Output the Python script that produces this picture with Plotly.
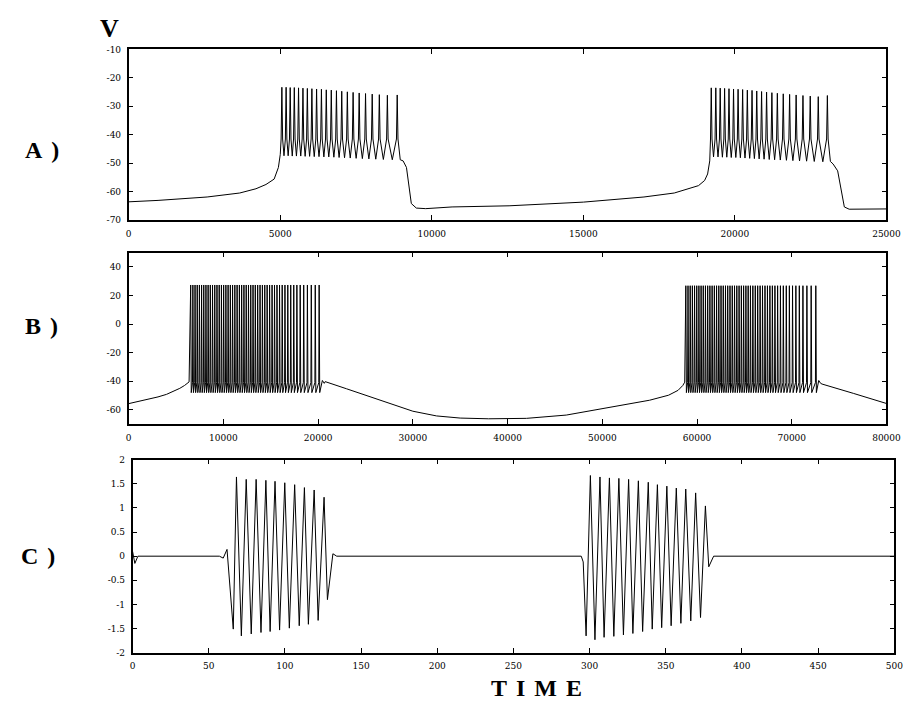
import plotly.graph_objects as go

# ---------------- Panel A (0..25000, V in mV) ----------------
A_x_ticks = [0, 5000, 10000, 15000, 20000, 25000]
A_x_ticktext = ["0", "5000", "10000", "15000", "20000", "25000"]
A_y_ticks = [-70, -60, -50, -40, -30, -20, -10]
A_y_ticktext = ["-70", "-60", "-50", "-40", "-30", "-20", "-10"]

A_pre_t = [0, 970, 2590, 3665, 4200, 4530, 4800, 4940, 5002]
A_pre_v = [-63.6, -63.1, -61.9, -60.5, -59.0, -57.5, -55.6, -51.5, -46.9]

A1_spike_t = [5055, 5195, 5330, 5465, 5605, 5750, 5895, 6045, 6200, 6360, 6520,
              6685, 6855, 7030, 7215, 7405, 7605, 7815, 8035, 8270, 8535, 8860]
A1_peak_v = [-23.3, -23.3, -23.4, -23.4, -23.5, -23.6, -23.7, -23.8, -23.9, -24.0, -24.2,
             -24.3, -24.5, -24.7, -24.9, -25.1, -25.3, -25.5, -25.7, -25.9, -26.1, -26.0]
A1_trough_v = [-47.4, -47.4, -47.5, -47.5, -47.5, -47.6, -47.6, -47.7, -47.7, -47.8, -47.8,
               -47.9, -48.0, -48.1, -48.2, -48.3, -48.4, -48.5, -48.6, -48.7, -48.8]

A_mid_t = [8960, 9055, 9165, 9240, 9325, 9490, 9800, 10670, 12550, 15000, 17000,
           18000, 18500, 18800, 19000, 19100, 19170]
A_mid_v = [-48.8, -49.2, -51.5, -57.0, -64.2, -65.8, -66.0, -65.4, -65.0, -63.7, -61.9,
           -60.5, -59.0, -57.9, -56.1, -53.8, -49.2]

A2_spike_t = [19220, 19370, 19515, 19660, 19805, 19955, 20105, 20255, 20410, 20565, 20720,
              20880, 21045, 21220, 21400, 21595, 21805, 22020, 22245, 22485, 22750, 23050]
A2_peak_v = [-23.5, -23.5, -23.6, -23.7, -23.8, -23.9, -24.0, -24.1, -24.3, -24.4, -24.6,
             -24.8, -25.0, -25.2, -25.4, -25.6, -25.8, -26.0, -26.2, -26.4, -26.6, -26.2]
A2_trough_v = [-47.8, -47.8, -47.9, -47.9, -48.0, -48.0, -48.1, -48.2, -48.3, -48.4, -48.5,
               -48.6, -48.7, -48.8, -48.9, -49.0, -49.1, -49.2, -49.3, -49.4, -49.5]

A_post_t = [23150, 23240, 23390, 23480, 23610, 23770, 24200, 25000]
A_post_v = [-49.4, -50.3, -52.7, -58.0, -65.4, -66.2, -66.2, -66.1]

A_shoulder_v = -41.5

# ---------------- Panel B (0..80000) ----------------
B_x_ticks = [0, 10000, 20000, 30000, 40000, 50000, 60000, 70000, 80000]
B_x_ticktext = ["0", "10000", "20000", "30000", "40000", "50000", "60000", "70000", "80000"]
B_y_ticks = [-60, -40, -20, 0, 20, 40]
B_y_ticktext = ["-60", "-40", "-20", "0", "20", "40"]

B_pre_t = [0, 1500, 3100, 4000, 4800, 5400, 5900, 6380]
B_pre_v = [-55.7, -53.5, -51.0, -49.2, -47.0, -45.0, -43.0, -40.5]

B1_spike_t = [6550, 6780, 7010, 7240, 7470, 7700, 7930, 8160, 8390, 8620,
              8855, 9090, 9325, 9560, 9795, 10030, 10265, 10500, 10735, 10970,
              11210, 11450, 11690, 11930, 12170, 12410, 12650, 12890, 13130, 13370,
              13620, 13870, 14120, 14370, 14620, 14880, 15140, 15400, 15660, 15930,
              16210, 16500, 16800, 17110, 17430, 17760, 18110, 18480, 18870, 19280, 19700, 20110]
B2_spike_t = [58820, 59050, 59280, 59510, 59740, 59970, 60200, 60430, 60660, 60890,
              61125, 61360, 61595, 61830, 62065, 62300, 62535, 62770, 63005, 63240,
              63480, 63720, 63960, 64200, 64440, 64680, 64920, 65160, 65400, 65640,
              65895, 66150, 66405, 66660, 66915, 67175, 67435, 67695, 67955, 68225,
              68510, 68805, 69110, 69425, 69750, 70085, 70435, 70800, 71180, 71600, 72050, 72540]
B1_peak_v = 27.3
B2_peak_v = 26.8
B_trough_v = -48.0
B_threshold_v = -41.0

B_mid_t = [20170, 20450, 20650, 20750, 23000, 25500, 28000, 30000, 32500, 35000, 38000,
           42000, 46200, 50000, 55000, 57000, 58000, 58500, 58700]
B_mid_v = [-48.0, -39.5, -41.5, -40.3, -45.3, -50.8, -56.5, -61.0, -64.3, -65.8, -66.3,
           -66.0, -63.7, -59.1, -53.3, -49.8, -46.4, -43.0, -40.7]

B_post_t = [72600, 72850, 73050, 73200, 76500, 80000]
B_post_v = [-48.0, -39.5, -41.5, -42.0, -48.5, -55.6]

# ---------------- Panel C (0..500) ----------------
C_x_ticks = [0, 50, 100, 150, 200, 250, 300, 350, 400, 450, 500]
C_x_ticktext = ["0", "50", "100", "150", "200", "250", "300", "350", "400", "450", "500"]
C_y_ticks = [-2, -1.5, -1, -0.5, 0, 0.5, 1, 1.5, 2]
C_y_ticktext = ["-2", "-1.5", "-1", "-0.5", "0", "0.5", "1", "1.5", "2"]

C_lead_t = [0, 1.5, 3.5, 57, 59.5, 62]
C_lead_v = [0.1, -0.15, 0.0, 0.0, -0.04, 0.14]

C1_peak_t = [68.2, 74.6, 81.1, 87.5, 93.5, 99.9, 106.4, 112.8, 119.2, 125.7]
C1_peak_v = [1.64, 1.59, 1.59, 1.57, 1.55, 1.52, 1.48, 1.42, 1.37, 1.22]
C1_trough_t = [66.1, 71.4, 77.9, 84.3, 90.3, 96.5, 102.9, 109.4, 115.4, 121.8, 127.9]
C1_trough_v = [-1.51, -1.65, -1.61, -1.58, -1.56, -1.53, -1.49, -1.44, -1.41, -1.33, -0.90]

C_gap_t = [131.5, 134, 294.5, 295.8]
C_gap_v = [0.05, 0.0, 0.0, -0.12]

C2_peak_t = [300.5, 306.8, 313.0, 319.2, 325.6, 332.0, 338.5, 344.5, 350.7, 356.9, 363.1, 369.6, 376.0]
C2_peak_v = [1.67, 1.64, 1.62, 1.61, 1.59, 1.56, 1.53, 1.48, 1.45, 1.41, 1.39, 1.31, 1.04]
C2_trough_t = [297.7, 303.5, 309.5, 315.9, 322.2, 328.4, 334.8, 341.1, 347.3, 353.5, 359.9,
               366.4, 372.8, 378.2]
C2_trough_v = [-1.65, -1.73, -1.68, -1.66, -1.63, -1.60, -1.56, -1.51, -1.48, -1.44, -1.39,
               -1.34, -1.27, -0.22]

C_tail_t = [381.4, 500]
C_tail_v = [0.0, 0.0]


# ---------------- build polylines from the lists ----------------
def a_burst(spikes, peaks, troughs, shoulder, d=25):
    xs, ys = [], []
    for i, t in enumerate(spikes):
        xs += [t - d, t, t + d]
        ys += [shoulder, peaks[i], shoulder]
        if i < len(spikes) - 1:
            xs.append((t + spikes[i + 1]) / 2)
            ys.append(troughs[i])
    return xs, ys


def b_burst(spikes, peak, trough, thresh, d_down=60, d_up=40):
    xs, ys = [], []
    for i, t in enumerate(spikes):
        if i > 0:
            xs.append(t - d_up)
            ys.append(thresh)
        xs.append(t)
        ys.append(peak)
        if i < len(spikes) - 1:
            xs.append(t + d_down)
            ys.append(trough)
    return xs, ys


def merge(ta, va, tb, vb):
    pts = sorted(zip(ta + tb, va + vb))
    return [p[0] for p in pts], [p[1] for p in pts]


a1x, a1y = a_burst(A1_spike_t, A1_peak_v, A1_trough_v, A_shoulder_v)
a2x, a2y = a_burst(A2_spike_t, A2_peak_v, A2_trough_v, A_shoulder_v)
Ax = A_pre_t + a1x + A_mid_t + a2x + A_post_t
Ay = A_pre_v + a1y + A_mid_v + a2y + A_post_v

b1x, b1y = b_burst(B1_spike_t, B1_peak_v, B_trough_v, B_threshold_v)
b2x, b2y = b_burst(B2_spike_t, B2_peak_v, B_trough_v, B_threshold_v)
Bx = B_pre_t + b1x + B_mid_t + b2x + B_post_t
By = B_pre_v + b1y + B_mid_v + b2y + B_post_v

c1x, c1y = merge(C1_peak_t, C1_peak_v, C1_trough_t, C1_trough_v)
c2x, c2y = merge(C2_peak_t, C2_peak_v, C2_trough_t, C2_trough_v)
Cx = C_lead_t + c1x + C_gap_t + c2x + C_tail_t
Cy = C_lead_v + c1y + C_gap_v + c2y + C_tail_v

line = dict(color="black", width=1)
fig = go.Figure()
fig.add_trace(go.Scatter(x=Ax, y=Ay, mode="lines", line=line, xaxis="x", yaxis="y"))
fig.add_trace(go.Scatter(x=Bx, y=By, mode="lines", line=line, xaxis="x2", yaxis="y2"))
fig.add_trace(go.Scatter(x=Cx, y=Cy, mode="lines", line=line, xaxis="x3", yaxis="y3"))

W, H = 917, 704
tickfont = dict(family="DejaVu Serif", size=9, color="black")


def ax(domain, rng, vals, text, anchor):
    return dict(domain=domain, range=rng, tickvals=vals, ticktext=text, anchor=anchor,
                showline=True, linecolor="black", linewidth=1.5, mirror="ticks",
                ticks="inside", ticklen=5, tickwidth=1, tickcolor="black",
                showgrid=False, zeroline=False, tickfont=tickfont, ticklabelstandoff=4)


A_px = dict(x0=120, x1=893, y0=37, y1=210)
B_px = dict(x0=120, x1=893, y0=243, y1=417)
C_px = dict(x0=124, x1=901, y0=453, y1=649)


def dom(p):
    return [p["x0"] / W, p["x1"] / W], [1 - p["y1"] / H, 1 - p["y0"] / H]


axd, ayd = dom(A_px)
bxd, byd = dom(B_px)
cxd, cyd = dom(C_px)

fig.update_layout(
    width=W, height=H, margin=dict(l=0, r=0, t=0, b=0),
    paper_bgcolor="white", plot_bgcolor="white", showlegend=False,
    xaxis=ax(axd, [0, 25000], A_x_ticks, A_x_ticktext, "y"),
    yaxis=ax(ayd, [-70, -10], A_y_ticks, A_y_ticktext, "x"),
    xaxis2=ax(bxd, [0, 80000], B_x_ticks, B_x_ticktext, "y2"),
    yaxis2=ax(byd, [-70, 50], B_y_ticks, B_y_ticktext, "x2"),
    xaxis3=ax(cxd, [0, 500], C_x_ticks, C_x_ticktext, "y3"),
    yaxis3=ax(cyd, [-2, 2], C_y_ticks, C_y_ticktext, "x3"),
)

lab = dict(family="Liberation Serif", color="black", weight="bold")
# text, x px, y px, size, yanchor
annots = [
    ('<span style="letter-spacing:2px">V</span>', 101, 0, 26, "top"),
    ('<span style="letter-spacing:9px">A)</span>', 36, 139, 24, "middle"),
    ('<span style="letter-spacing:9px">B)</span>', 36, 318, 24, "middle"),
    ('<span style="letter-spacing:9px">C)</span>', 32, 551, 24, "middle"),
    ('<span style="letter-spacing:9px">TIME</span>', 541, 685, 24, "middle"),
]
for txt, px, py, sz, ya in annots:
    fig.add_annotation(text=txt, x=px / W, y=1 - py / H, xref="paper", yref="paper",
                       showarrow=False, xanchor="center", yanchor=ya, borderpad=0,
                       font=dict(size=sz, **lab))

fig.write_html("out.html")
